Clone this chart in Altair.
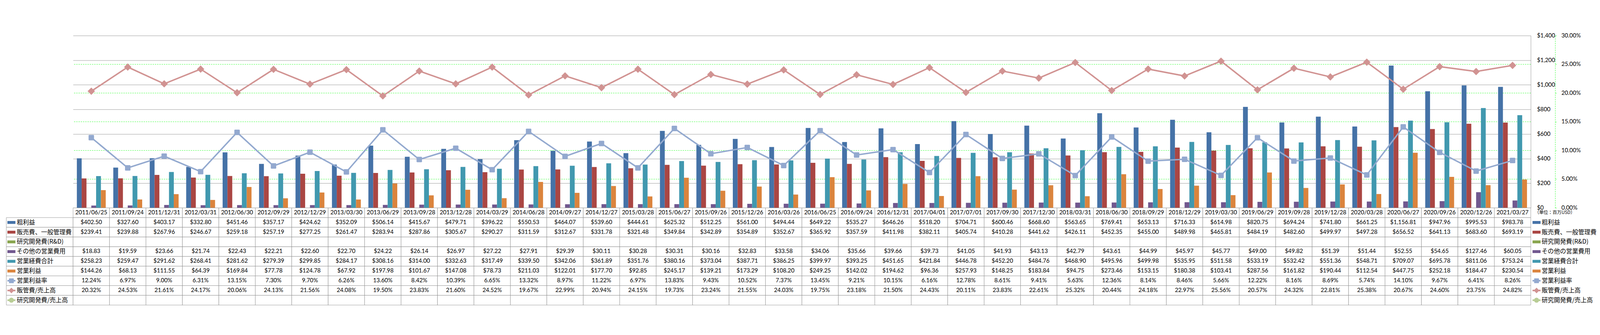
import altair as alt
import pandas as pd

# ---------------- data ----------------
dates = ["2011/06/25", "2011/09/24", "2011/12/31", "2012/03/31", "2012/06/30", "2012/09/29",
         "2012/12/29", "2013/03/30", "2013/06/29", "2013/09/28", "2013/12/28", "2014/03/29",
         "2014/06/28", "2014/09/27", "2014/12/27", "2015/03/28", "2015/06/27", "2015/09/26",
         "2015/12/26", "2016/03/26", "2016/06/25", "2016/09/24", "2016/12/31", "2017/04/01",
         "2017/07/01", "2017/09/30", "2017/12/30", "2018/03/31", "2018/06/30", "2018/09/29",
         "2018/12/29", "2019/03/30", "2019/06/29", "2019/09/28", "2019/12/28", "2020/03/28",
         "2020/06/27", "2020/09/26", "2020/12/26", "2021/03/27"]

gross_profit = [402.50, 327.60, 403.17, 332.80, 451.46, 357.17, 424.62, 352.09, 506.14, 415.67,
                479.71, 396.22, 550.53, 464.07, 539.60, 444.61, 625.32, 512.25, 561.00, 494.44,
                649.22, 535.27, 646.26, 518.20, 704.71, 600.46, 668.60, 563.65, 769.41, 653.13,
                716.33, 614.98, 820.75, 694.24, 741.80, 661.25, 1156.81, 947.96, 995.53, 983.78]
sga = [239.41, 239.88, 267.96, 246.67, 259.18, 257.19, 277.25, 261.47, 283.94, 287.86,
       305.67, 290.27, 311.59, 312.67, 331.78, 321.48, 349.84, 342.89, 354.89, 352.67,
       365.92, 357.59, 411.98, 382.11, 405.74, 410.28, 441.62, 426.11, 452.35, 455.00,
       489.98, 465.81, 484.19, 482.60, 499.97, 497.28, 656.52, 641.13, 683.60, 693.19]
rnd = [None] * 40  # row is empty in the source table
other_opex = [18.83, 19.59, 23.66, 21.74, 22.43, 22.21, 22.60, 22.70, 24.22, 26.14,
              26.97, 27.22, 27.91, 29.39, 30.11, 30.28, 30.31, 30.16, 32.83, 33.58,
              34.06, 35.66, 39.66, 39.73, 41.05, 41.93, 43.13, 42.79, 43.61, 44.99,
              45.97, 45.77, 49.00, 49.82, 51.39, 51.44, 52.55, 54.65, 127.46, 60.05]
total_opex = [258.23, 259.47, 291.62, 268.41, 281.62, 279.39, 299.85, 284.17, 308.16, 314.00,
              332.63, 317.49, 339.50, 342.06, 361.89, 351.76, 380.16, 373.04, 387.71, 386.25,
              399.97, 393.25, 451.65, 421.84, 446.78, 452.20, 484.76, 468.90, 495.96, 499.98,
              535.95, 511.58, 533.19, 532.42, 551.36, 548.71, 709.07, 695.78, 811.06, 753.24]
op_income = [144.26, 68.13, 111.55, 64.39, 169.84, 77.78, 124.78, 67.92, 197.98, 101.67,
             147.08, 78.73, 211.03, 122.01, 177.70, 92.85, 245.17, 139.21, 173.29, 108.20,
             249.25, 142.02, 194.62, 96.36, 257.93, 148.25, 183.84, 94.75, 273.46, 153.15,
             180.38, 103.41, 287.56, 161.82, 190.44, 112.54, 447.75, 252.18, 184.47, 230.54]
op_margin_pct = [12.24, 6.97, 9.00, 6.31, 13.15, 7.30, 9.70, 6.26, 13.60, 8.42,
                 10.39, 6.65, 13.32, 8.97, 11.22, 6.97, 13.83, 9.43, 10.52, 7.37,
                 13.45, 9.21, 10.15, 6.16, 12.78, 8.61, 9.41, 5.63, 12.36, 8.14,
                 8.46, 5.66, 12.22, 8.16, 8.69, 5.74, 14.10, 9.67, 6.41, 8.26]
sga_ratio_pct = [20.32, 24.53, 21.61, 24.17, 20.06, 24.13, 21.56, 24.08, 19.50, 23.83,
                 21.60, 24.52, 19.67, 22.99, 20.94, 24.15, 19.73, 23.24, 21.55, 24.03,
                 19.75, 23.18, 21.50, 24.43, 20.11, 23.83, 22.61, 25.32, 20.44, 24.18,
                 22.97, 25.56, 20.57, 24.32, 22.81, 25.38, 20.67, 24.60, 23.75, 24.82]
rnd_ratio_pct = [None] * 40  # row is empty in the source table

bar_series = ["粗利益", "販売費、一般管理費", "研究開発費(R&D)", "その他の営業費用", "営業経費合計", "営業利益"]
line_series = ["営業利益率", "販管費/売上高", "研究開発費/売上高"]
all_series = bar_series + line_series
series_colors = ["#4572A7", "#AA4643", "#89A54E", "#71588F", "#4198AF", "#DB843D",
                 "#93A9CF", "#D19392", "#B9CD96"]

usd_ticks = [0, 200, 400, 600, 800, 1000, 1200, 1400]
pct_ticks = [0.0, 0.05, 0.10, 0.15, 0.20, 0.25, 0.30]
unit_label = "（単位：百万USD）"
header_row = "日付"

bar_values = dict(zip(bar_series, [gross_profit, sga, rnd, other_opex, total_opex, op_income]))
line_values = dict(zip(line_series, [op_margin_pct, sga_ratio_pct, rnd_ratio_pct]))

bar_df = pd.DataFrame([{"date": d, "series": s, "value": v}
                       for s in bar_series for d, v in zip(dates, bar_values[s]) if v is not None])
line_df = pd.DataFrame([{"date": d, "series": s, "value": v / 100.0}
                        for s in line_series for d, v in zip(dates, line_values[s]) if v is not None])

table_rows = [header_row] + all_series
cell_records = [{"row": header_row, "date": d, "txt": d} for d in dates]
for s in bar_series:
    for d, v in zip(dates, bar_values[s]):
        cell_records.append({"row": s, "date": d, "txt": "" if v is None else f"${v:,.2f}"})
for s in line_series:
    for d, v in zip(dates, line_values[s]):
        cell_records.append({"row": s, "date": d, "txt": "" if v is None else f"{v:.2f}%"})
cell_df = pd.DataFrame(cell_records)

# ---------------- style ----------------
GRAY = "#878787"
GREEN = "#00FF00"
LATIN = "Lato"
CJK = "Noto Sans CJK JP"
PLOT_W = 4543
PLOT_H = 537
KEY_W = 208
TABLE_H = 303
RLEG_W = 196

ROUND_SQ = ("M-0.75,-1H0.75A0.25,0.25,0,0,1,1,-0.75V0.75A0.25,0.25,0,0,1,0.75,1"
            "H-0.75A0.25,0.25,0,0,1,-1,0.75V-0.75A0.25,0.25,0,0,1,-0.75,-1Z")
SYM_BAR = "M-1,-0.36H1V0.36H-1Z"
SYM_SQ = ("M-1,-0.2H-0.6V-0.5A0.1,0.1,0,0,1,-0.5,-0.6H0.5A0.1,0.1,0,0,1,0.6,-0.5V-0.2H1V0.2H0.6"
          "V0.5A0.1,0.1,0,0,1,0.5,0.6H-0.5A0.1,0.1,0,0,1,-0.6,0.5V0.2H-1Z")
SYM_DIA = "M-1,-0.2H-0.5L0,-0.7L0.5,-0.2H1V0.2H0.5L0,0.7L-0.5,0.2H-1Z"
SYM_CIR = "M-1,-0.2H-0.587A0.62,0.62,0,0,1,0.587,-0.2H1V0.2H0.587A0.62,0.62,0,0,1,-0.587,0.2H-1Z"
sym_paths = [SYM_BAR] * 6 + [SYM_SQ, SYM_DIA, SYM_CIR]

color_scale = alt.Scale(domain=all_series, range=series_colors)
shape_scale = alt.Scale(domain=all_series, range=sym_paths)
usd_scale = alt.Scale(domain=[0, 1400], nice=False, zero=True)
pct_scale = alt.Scale(domain=[0, 0.3], nice=False, zero=True)
date_scale = alt.Scale(domain=dates, paddingInner=0, paddingOuter=0)

x_top = alt.X("date:N", sort=dates, scale=date_scale, axis=None)

usd_axis = alt.Axis(orient="right", values=usd_ticks, format="$,.0f", title=None,
                    grid=True, gridColor=GRAY, gridWidth=1,
                    domain=True, domainColor=GRAY, domainWidth=1,
                    ticks=False, tickSize=0, labelPadding=19, labelAlign="left",
                    labelBaseline="middle", labelFont=LATIN, labelFontSize=18,
                    labelColor="#000000", labelFlush=False, labelOverlap=False)
pct_axis = alt.Axis(orient="right", offset=76, values=pct_ticks, format=".2%", title=None,
                    grid=False, domain=True, domainColor=GREEN, domainDash=[4, 3], domainWidth=1,
                    ticks=True, tickColor=GREEN, tickSize=4, tickWidth=1,
                    labelPadding=15, labelAlign="left", labelBaseline="middle",
                    labelFont=LATIN, labelFontSize=18, labelColor="#000000",
                    labelFlush=False, labelOverlap=False)

# ---------------- main plot ----------------
pct_grid = alt.Chart(pd.DataFrame({"p": pct_ticks[1:-1]})).mark_rule(
    color=GREEN, strokeDash=[4, 3], strokeWidth=1
).encode(y=alt.Y("p:Q", scale=pct_scale, axis=None))

bars = alt.Chart(bar_df).mark_bar().encode(
    x=x_top,
    xOffset=alt.XOffset("series:N", sort=bar_series,
                        scale=alt.Scale(domain=bar_series, paddingInner=0, paddingOuter=0.785)),
    y=alt.Y("value:Q", scale=usd_scale, axis=usd_axis),
    color=alt.Color("series:N", scale=color_scale, legend=None),
)

lines = alt.Chart(line_df).mark_line(strokeWidth=4.5, strokeJoin="round").encode(
    x=x_top,
    y=alt.Y("value:Q", scale=pct_scale, axis=pct_axis),
    color=alt.Color("series:N", scale=color_scale, legend=None),
)

squares = alt.Chart(line_df).transform_filter(alt.datum.series == "営業利益率").mark_point(
    shape=ROUND_SQ, size=289, filled=True, opacity=1, strokeWidth=0
).encode(
    x=x_top,
    y=alt.Y("value:Q", scale=pct_scale, axis=None),
    color=alt.Color("series:N", scale=color_scale, legend=None),
)

diamonds = alt.Chart(line_df).transform_filter(alt.datum.series == "販管費/売上高").mark_point(
    shape="diamond", size=529, filled=True, opacity=1, strokeWidth=0
).encode(
    x=x_top,
    y=alt.Y("value:Q", scale=pct_scale, axis=None),
    color=alt.Color("series:N", scale=color_scale, legend=None),
)

top = alt.layer(pct_grid, bars, lines, squares, diamonds).resolve_scale(
    y="independent"
).properties(width=PLOT_W, height=PLOT_H)

spacer_left = alt.Chart(pd.DataFrame({"a": [0]})).mark_text(text="").encode(
    x=alt.value(0), y=alt.value(0)
).properties(width=KEY_W, height=PLOT_H)
spacer_right = alt.Chart(pd.DataFrame({"a": [0]})).mark_text(text="").encode(
    x=alt.value(0), y=alt.value(0)
).properties(width=RLEG_W, height=PLOT_H)

# ---------------- data table ----------------
row_y = alt.Y("row:N", sort=table_rows,
              scale=alt.Scale(domain=table_rows, paddingInner=0, paddingOuter=0), axis=None)
tab_x = alt.X("date:N", sort=dates, scale=date_scale, axis=None)

cells = alt.Chart(cell_df).mark_rect(fill="white", stroke=GRAY, strokeWidth=1).encode(x=tab_x, y=row_y)
cell_text = alt.Chart(cell_df).mark_text(
    font=LATIN, fontSize=18, color="#000000", align="center", baseline="middle"
).encode(x=tab_x, y=row_y, text="txt:N")
table = alt.layer(cells, cell_text).properties(width=PLOT_W, height=TABLE_H)

key_df = pd.DataFrame({"row": all_series})
key_cells = alt.Chart(key_df).mark_rect(fill="white", stroke=GRAY, strokeWidth=1).encode(
    x=alt.value(0), x2=alt.value(KEY_W), y=row_y
)
key_sym = alt.Chart(key_df).mark_point(filled=True, opacity=1, strokeWidth=0, size=625).encode(
    x=alt.value(15.8), y=row_y,
    shape=alt.Shape("row:N", scale=shape_scale, legend=None),
    color=alt.Color("row:N", scale=color_scale, legend=None),
)
key_text = alt.Chart(key_df).mark_text(
    font=CJK, fontSize=19, color="#000000", align="left", baseline="middle"
).encode(x=alt.value(32.5), y=row_y, text="row:N")
key = alt.layer(key_cells, key_sym, key_text).properties(width=KEY_W, height=TABLE_H)

rl_sym = alt.Chart(key_df).mark_point(filled=True, opacity=1, strokeWidth=0, size=625).encode(
    x=alt.value(18), y=row_y,
    shape=alt.Shape("row:N", scale=shape_scale, legend=None),
    color=alt.Color("row:N", scale=color_scale, legend=None),
)
rl_text = alt.Chart(key_df).mark_text(
    font=CJK, fontSize=19, color="#000000", align="left", baseline="middle"
).encode(x=alt.value(34), y=row_y, text="row:N")
rl_unit = alt.Chart(pd.DataFrame({"row": [header_row], "t": [unit_label]})).mark_text(
    font=CJK, fontSize=14, color="#000000", align="left", baseline="middle"
).encode(x=alt.value(12), y=row_y, text="t:N")
rlegend = alt.layer(rl_sym, rl_text, rl_unit).properties(width=RLEG_W, height=TABLE_H)

chart = alt.concat(
    spacer_left, top, spacer_right, key, table, rlegend,
    columns=3, spacing=0, bounds="flush", align="each"
).properties(
    padding={"left": 9, "top": 0, "right": 0, "bottom": 0}
).configure(font=LATIN).configure_view(strokeWidth=0)

chart.save("out.html", embed_options={"renderer": "svg", "actions": False})
